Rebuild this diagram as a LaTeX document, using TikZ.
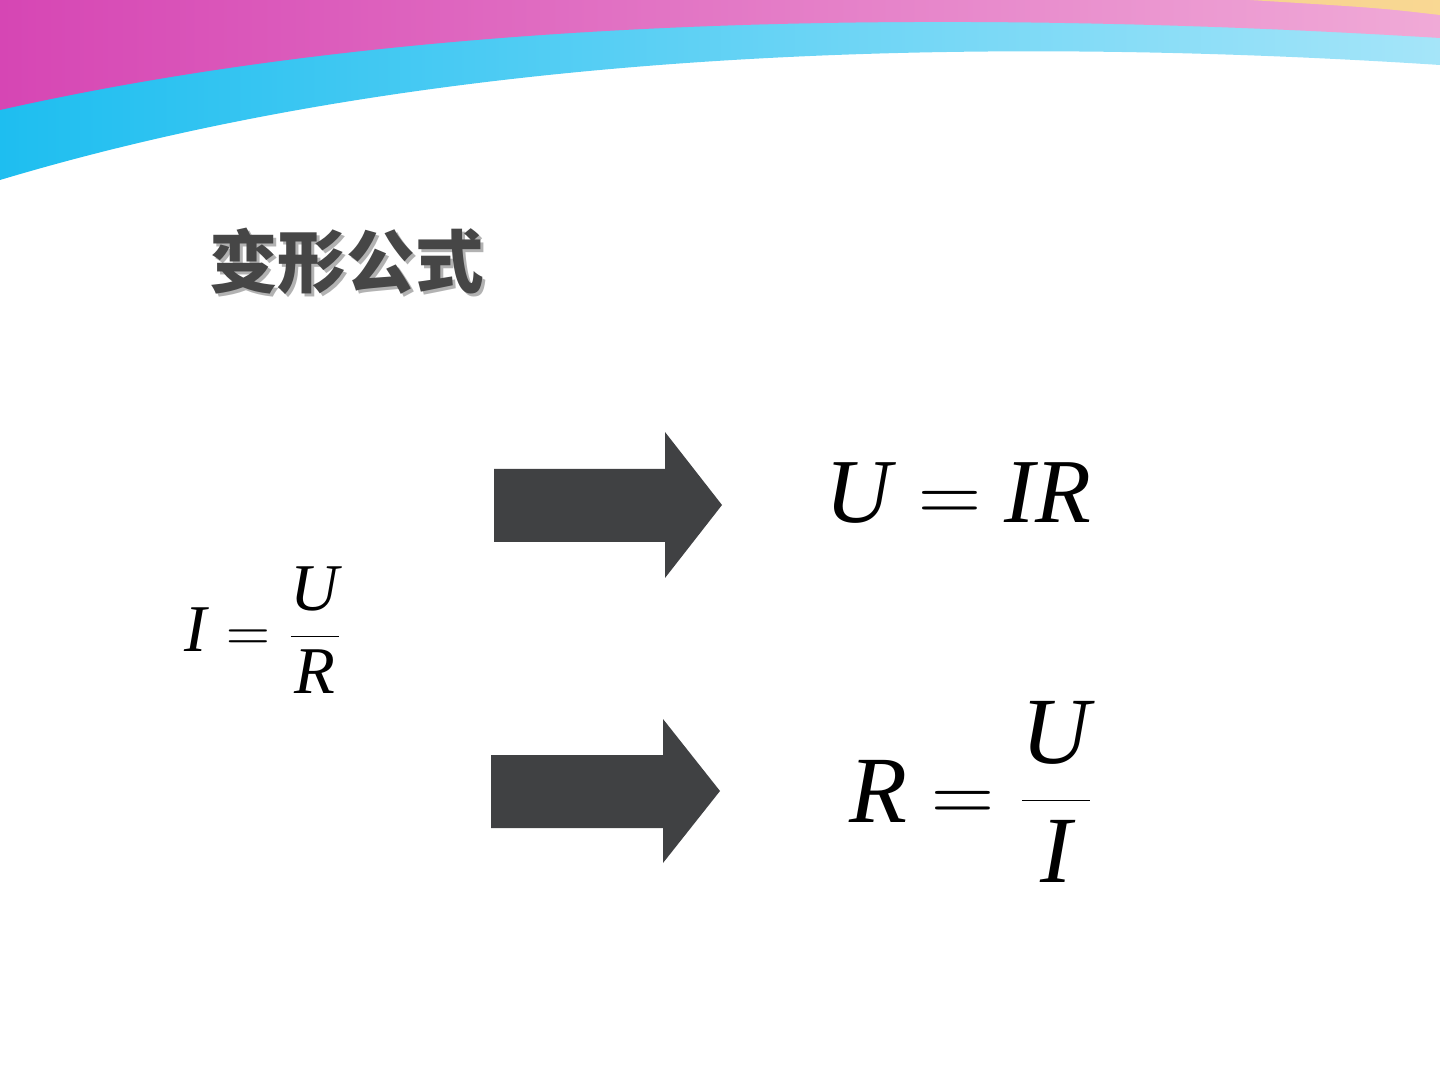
\documentclass[tikz,border=0pt]{standalone}
\usepackage{fontspec}
\setmainfont{Liberation Serif}
\newfontfamily\cjk{Noto Sans CJK SC}
\usetikzlibrary{positioning}
\definecolor{bannerpink}{RGB}{214, 70, 180}
\definecolor{bannerlight}{RGB}{240, 170, 215}
\definecolor{bannercyan}{RGB}{30, 190, 240}
\definecolor{arrowgray}{RGB}{64, 65, 67}
\definecolor{titlegray}{RGB}{70, 70, 70}
\newcommand{\fracUR}[2]{$\displaystyle\frac{\textit{#1}}{\textit{#2}}$}
\begin{document}
\begin{tikzpicture}[
        x=1cm, y=-1cm,
        formula/.style={inner sep=0pt, align=center},
        bigarrow/.style={fill=arrowgray}
    ]
    % Canvas
    \useasboundingbox (0,0) rectangle (14.4,10.8);
    % Banner
    \shade[left color=bannercyan, right color=bannercyan!40!white]
        (0,0) -- (14.4,0) -- (14.4,0.65) .. controls (9,0.3) and (4,0.6) .. (0,1.8) -- cycle;
    \shade[left color=bannerpink, right color=bannerlight]
        (0,0) -- (14.4,0) -- (14.4,0.38) .. controls (9,0.05) and (4,0.2) .. (0,1.1) -- cycle;
    \fill[yellow!60, opacity=0.6]
        (12.5,0) -- (14.4,0) -- (14.4,0.15) .. controls (13.8,0.08) .. (12.5,0) -- cycle;
    % Title
    \node[anchor=west, font=\cjk\bfseries\fontsize{19.5}{24}\selectfont, text=gray!60] at (2.0,2.64) {变形公式};
    \node[anchor=west, font=\cjk\bfseries\fontsize{19.5}{24}\selectfont, text=titlegray] (title) at (1.97,2.61) {变形公式};
    % Arrows
    \fill[bigarrow] (4.94,4.69) -- (6.65,4.69) -- (6.65,4.32) -- (7.22,5.05)
        -- (6.65,5.78) -- (6.65,5.42) -- (4.94,5.42) -- cycle;
    \fill[bigarrow] (4.91,7.55) -- (6.63,7.55) -- (6.63,7.19) -- (7.20,7.91)
        -- (6.63,8.63) -- (6.63,8.28) -- (4.91,8.28) -- cycle;
    % Formulas
    \node[formula, font=\fontsize{19}{23}\selectfont] (ohm) at (2.64,6.30)
        {\textit{I} $=$ \fracUR{U}{R}};
    \node[formula, font=\fontsize{26}{31}\selectfont] (volt) at (9.58,4.93)
        {\textit{U} $=$ \textit{IR}};
    \node[formula, font=\fontsize{27}{32}\selectfont] (resist) at (9.72,7.92)
        {\textit{R} $=$ \fracUR{U}{I}};
\end{tikzpicture}
\end{document}
